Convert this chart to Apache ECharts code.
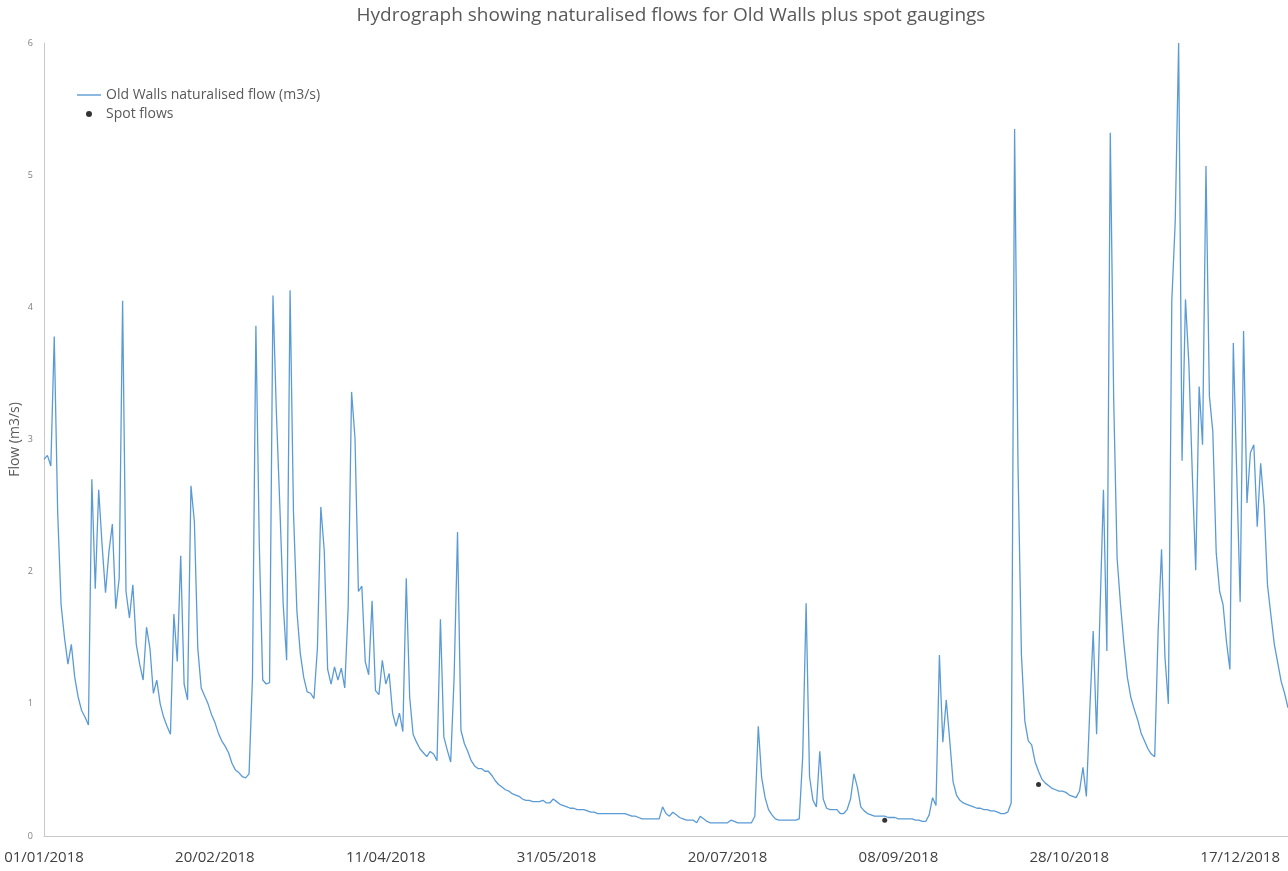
<!DOCTYPE html>
<html>
<head>
<meta charset="utf-8">
<title>Old Walls hydrograph</title>
<script src="https://cdn.jsdelivr.net/npm/echarts@6/dist/echarts.min.js"></script>
<style>
    html, body { margin: 0; padding: 0; background: #fff; }
    #chart { width: 1288px; height: 871px; }
</style>
</head>
<body>
<div id="chart"></div>
<script>
// daily naturalised flow (m3/s), one array per month of 2018
var janFlow = [2.85, 2.88, 2.8, 3.78, 2.45, 1.75, 1.5, 1.3, 1.45, 1.2, 1.05, 0.95, 0.9, 0.84, 2.7, 1.87, 2.62, 2.2, 1.84, 2.15, 2.36, 1.72, 1.95, 4.05, 1.85, 1.65, 1.9, 1.45, 1.3, 1.18, 1.58];
var febFlow = [1.42, 1.08, 1.18, 1.0, 0.9, 0.83, 0.77, 1.68, 1.32, 2.12, 1.15, 1.03, 2.65, 2.38, 1.42, 1.12, 1.06, 1.0, 0.92, 0.86, 0.78, 0.72, 0.68, 0.63, 0.55, 0.5, 0.48, 0.45];
var marFlow = [0.44, 0.47, 1.2, 3.86, 2.2, 1.18, 1.15, 1.16, 4.09, 3.2, 2.5, 1.75, 1.33, 4.13, 2.45, 1.7, 1.38, 1.2, 1.09, 1.08, 1.04, 1.42, 2.49, 2.16, 1.26, 1.15, 1.28, 1.18, 1.27, 1.12, 1.73];
var aprFlow = [3.36, 3.01, 1.85, 1.89, 1.32, 1.22, 1.78, 1.1, 1.07, 1.33, 1.15, 1.23, 0.93, 0.83, 0.93, 0.79, 1.95, 1.05, 0.77, 0.71, 0.66, 0.63, 0.6, 0.64, 0.62, 0.57, 1.64, 0.75, 0.65, 0.56];
var mayFlow = [1.2, 2.3, 0.8, 0.7, 0.64, 0.57, 0.53, 0.51, 0.51, 0.49, 0.49, 0.46, 0.42, 0.39, 0.37, 0.35, 0.34, 0.32, 0.31, 0.3, 0.28, 0.27, 0.27, 0.26, 0.26, 0.26, 0.27, 0.25, 0.25, 0.28, 0.26];
var junFlow = [0.24, 0.23, 0.22, 0.21, 0.21, 0.2, 0.2, 0.2, 0.19, 0.18, 0.18, 0.17, 0.17, 0.17, 0.17, 0.17, 0.17, 0.17, 0.17, 0.17, 0.16, 0.15, 0.15, 0.14, 0.13, 0.13, 0.13, 0.13, 0.13, 0.13];
var julFlow = [0.22, 0.17, 0.15, 0.18, 0.16, 0.14, 0.13, 0.12, 0.12, 0.12, 0.1, 0.15, 0.13, 0.11, 0.1, 0.1, 0.1, 0.1, 0.1, 0.1, 0.12, 0.11, 0.1, 0.1, 0.1, 0.1, 0.1, 0.15, 0.83, 0.44, 0.29];
var augFlow = [0.2, 0.16, 0.13, 0.12, 0.12, 0.12, 0.12, 0.12, 0.12, 0.13, 0.6, 1.76, 0.45, 0.27, 0.22, 0.64, 0.28, 0.21, 0.2, 0.2, 0.2, 0.17, 0.17, 0.2, 0.28, 0.47, 0.37, 0.22, 0.19, 0.17, 0.16];
var sepFlow = [0.15, 0.15, 0.15, 0.15, 0.14, 0.14, 0.14, 0.13, 0.13, 0.13, 0.13, 0.13, 0.12, 0.12, 0.11, 0.11, 0.16, 0.29, 0.23, 1.37, 0.71, 1.03, 0.73, 0.41, 0.31, 0.27, 0.25, 0.24, 0.23, 0.22];
var octFlow = [0.21, 0.21, 0.2, 0.2, 0.19, 0.19, 0.18, 0.17, 0.17, 0.18, 0.25, 5.35, 2.8, 1.37, 0.87, 0.72, 0.69, 0.56, 0.49, 0.43, 0.4, 0.38, 0.36, 0.35, 0.34, 0.34, 0.33, 0.31, 0.3, 0.29, 0.34];
var novFlow = [0.52, 0.3, 0.95, 1.55, 0.77, 1.7, 2.62, 1.4, 5.32, 3.3, 2.1, 1.75, 1.45, 1.2, 1.05, 0.96, 0.88, 0.78, 0.72, 0.66, 0.62, 0.6, 1.55, 2.17, 1.35, 1.0, 4.05, 4.65, 6.0, 2.84];
var decFlow = [4.06, 3.57, 2.74, 2.01, 3.4, 2.96, 5.07, 3.33, 3.06, 2.14, 1.85, 1.75, 1.47, 1.26, 3.73, 2.74, 1.77, 3.82, 2.52, 2.9, 2.96, 2.34, 2.82, 2.5, 1.9, 1.67, 1.45, 1.31, 1.17, 1.08, 0.97];

// spot gaugings
var spotDates = ["04/09/2018", "19/10/2018"];
var spotValues = [0.12, 0.39];

var yTicks = [0, 1, 2, 3, 4, 5, 6];

var flow = [].concat(janFlow, febFlow, marFlow, aprFlow, mayFlow, junFlow,
    julFlow, augFlow, sepFlow, octFlow, novFlow, decFlow);

// one category per day of 2018, dd/mm/yyyy
function pad(n) { return n < 10 ? "0" + n : "" + n; }
var dates = [];
for (var i = 0; i < flow.length; i++) {
    var d = new Date(Date.UTC(2018, 0, 1 + i));
    dates.push(pad(d.getUTCDate()) + "/" + pad(d.getUTCMonth() + 1) + "/" + d.getUTCFullYear());
}

var spots = spotDates.map(function(s, k) { return [s, spotValues[k]]; });

var myChart = echarts.init(document.getElementById("chart"));
var option = {
    animation: false,
    textStyle: { fontFamily: "Open Sans" },
    title: {
        text: "Hydrograph showing naturalised flows for Old Walls plus spot gaugings",
        left: 666,
        top: 1,
        textAlign: "center",
        textStyle: { fontSize: 19, fontWeight: "normal", color: "#595959", fontFamily: "Open Sans" }
    },
    legend: {
        orient: "vertical",
        left: 77,
        top: 88,
        padding: 0,
        itemWidth: 24,
        itemHeight: 6,
        itemGap: 5,
        textStyle: { fontSize: 14, color: "#595959" },
        data: [
            { name: "Old Walls naturalised flow (m3/s)", icon: "path://M0,0H24V1.4H0Z" },
            { name: "Spot flows", icon: "circle" }
        ]
    },
    grid: { left: 44, right: 0, top: 43, bottom: 35, outerBoundsMode: "none" },
    xAxis: {
        type: "category",
        data: dates,
        boundaryGap: false,
        axisLine: { lineStyle: { color: "#c8c8c8" } },
        axisTick: { show: false },
        axisLabel: {
            interval: function(idx) { return idx % 50 === 0; },
            margin: 14,
            fontSize: 15,
            color: "#404040",
            hideOverlap: false
        },
        splitLine: { show: false }
    },
    yAxis: {
        type: "value",
        min: yTicks[0],
        max: yTicks[yTicks.length - 1],
        interval: 1,
        name: "Flow (m3/s)",
        nameLocation: "middle",
        nameGap: 22,
        nameMoveOverlap: false,
        nameTextStyle: { fontSize: 14, color: "#595959" },
        axisLine: { show: true, lineStyle: { color: "#c8c8c8" } },
        axisTick: { show: false },
        axisLabel: { fontSize: 9, color: "#7f7f7f", margin: 11 },
        splitLine: { show: false }
    },
    series: [{
        name: "Old Walls naturalised flow (m3/s)",
        type: "line",
        data: flow,
        symbol: "none",
        lineStyle: { color: "#5b9bd5", width: 1.3 },
        itemStyle: { color: "#5b9bd5" }
    }, {
        name: "Spot flows",
        type: "scatter",
        data: spots,
        symbolSize: 5,
        itemStyle: { color: "#000" }
    }]
};
myChart.setOption(option);
</script>
</body>
</html>
